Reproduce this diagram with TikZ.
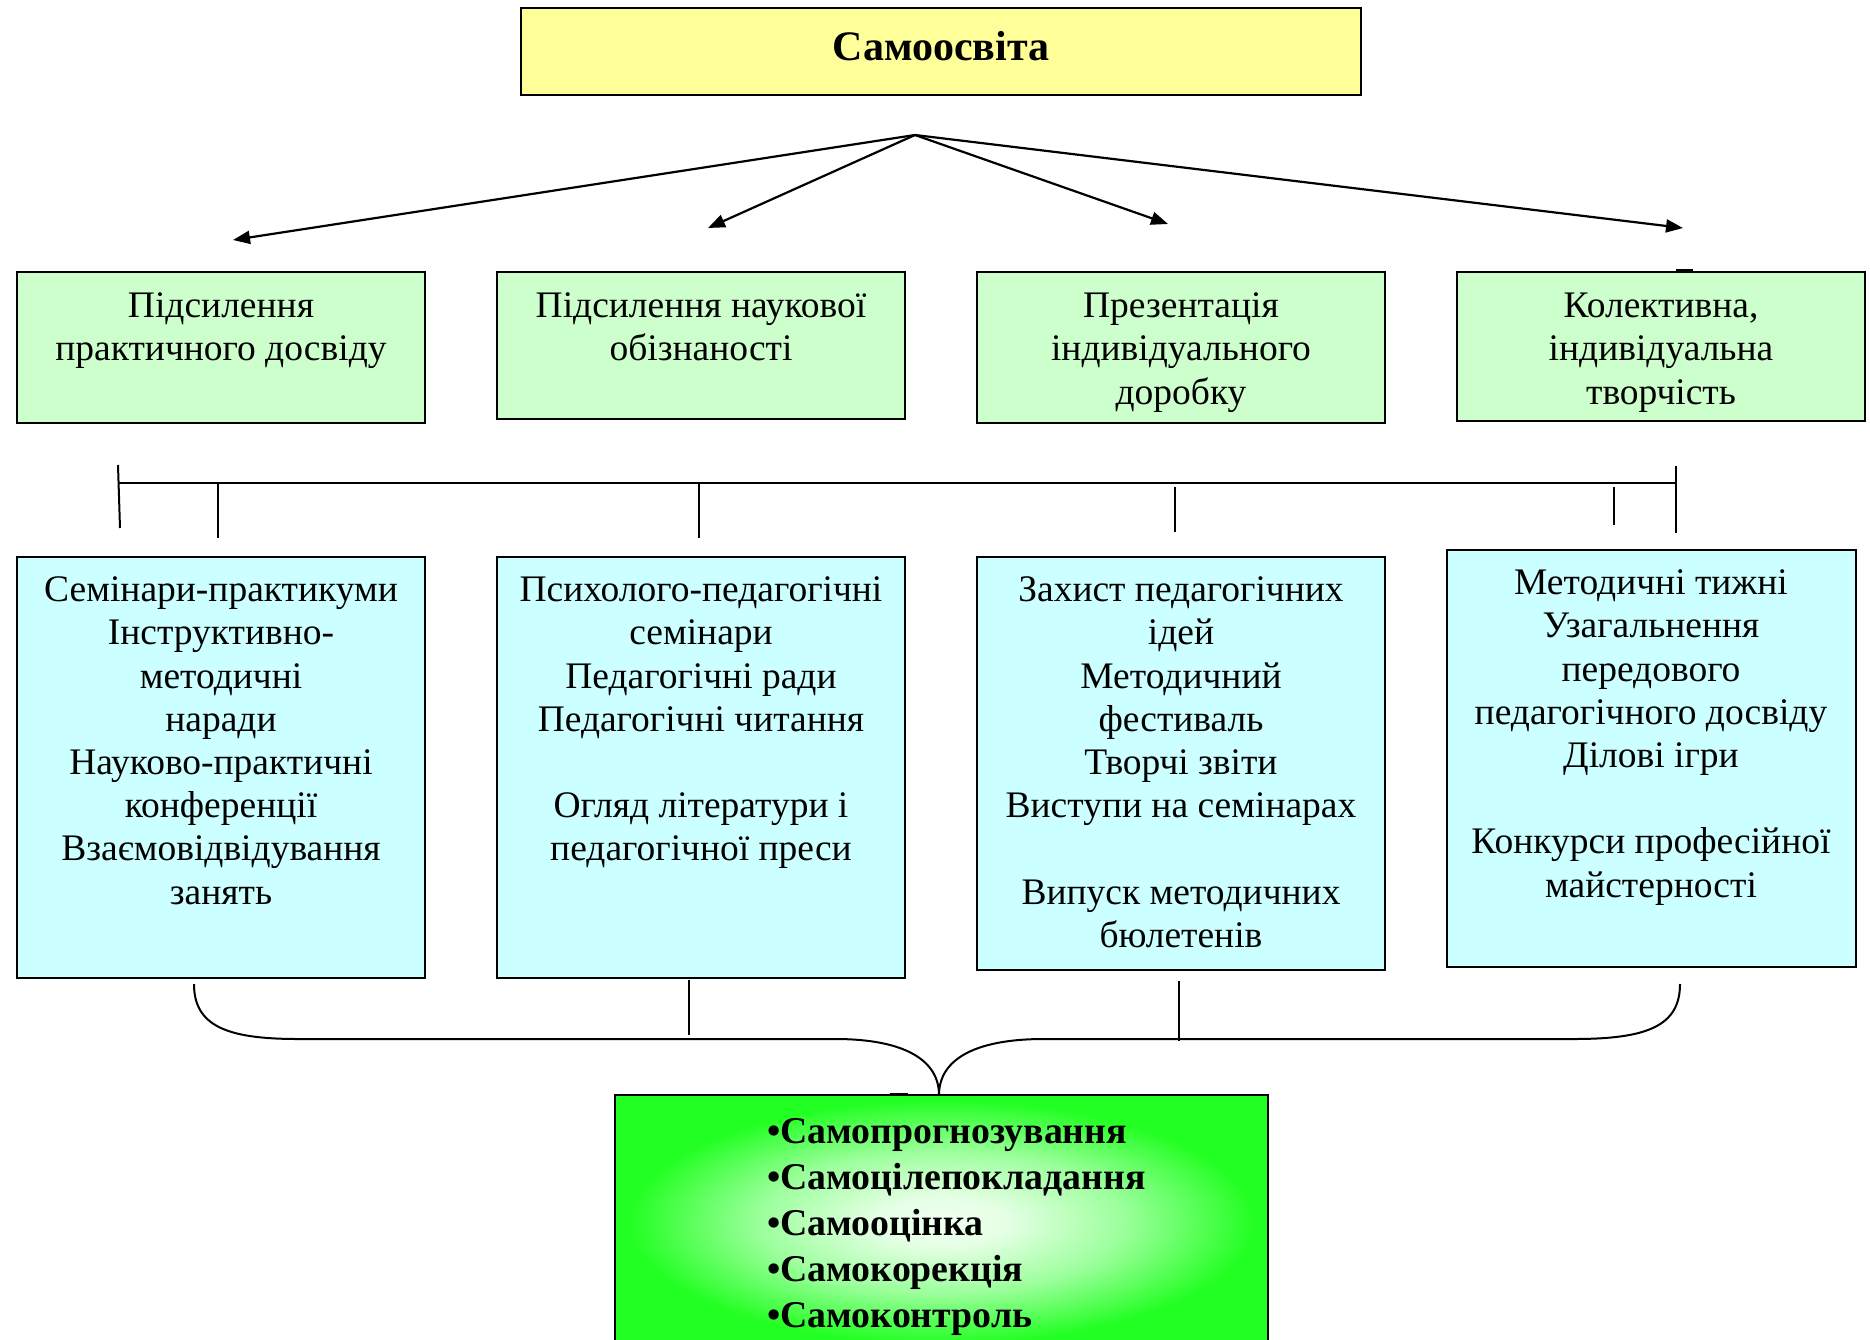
\documentclass[tikz,border=0pt]{standalone}
\usepackage{fontspec}
\setmainfont{Liberation Serif}
\usetikzlibrary{arrows.meta}
\definecolor{ybox}{HTML}{FFFF99}
\definecolor{gbox}{HTML}{CCFFCC}
\definecolor{cbox}{HTML}{CCFFFF}
\definecolor{bgreen}{HTML}{22FF22}
\pgfdeclareradialshading{glowgreen}{\pgfpoint{0bp}{0bp}}{color(0bp)=(white!94!bgreen); color(5bp)=(white!88!bgreen); color(14bp)=(white!55!bgreen); color(24bp)=(bgreen); color(50bp)=(bgreen)}
\begin{document}
\begin{tikzpicture}[x=1pt,y=-1pt,
  box/.style={draw=black, line width=1.6pt, inner sep=0pt, outer sep=0pt, anchor=north west},
  txt/.style={align=center, anchor=north, inner sep=0pt, font=\fontsize{37.5}{43.2}\selectfont},
  arr/.style={line width=2.2pt, -{Triangle[length=17pt,width=13pt]}},
  bar/.style={line width=2pt},
  thin/.style={line width=1.3pt},
  brace/.style={line width=2pt}]
\useasboundingbox (0,0) rectangle (1870,1340);

% top box
\node[box, fill=ybox, minimum width=840, minimum height=87] (top) at (521,8) {};
\node[font=\fontsize{42}{50}\selectfont\bfseries, inner sep=0pt] (title) at (941,46) {Самоосвіта};

% green boxes
\node[box, fill=gbox, minimum width=408, minimum height=151] (g1) at (17,272) {};
\node[box, fill=gbox, minimum width=408, minimum height=147] (g2) at (497,272) {};
\node[box, fill=gbox, minimum width=408, minimum height=151] (g3) at (977,272) {};
\node[box, fill=gbox, minimum width=408, minimum height=149] (g4) at (1457,272) {};
\node[txt] (tg1) at (221,287.3) {\strut Підсилення\\практичного досвіду};
\node[txt] (tg2) at (701,287.3) {\strut Підсилення наукової\\обізнаності};
\node[txt] (tg3) at (1181,287.3) {\strut Презентація\\індивідуального\\доробку};
\node[txt] (tg4) at (1661,287.3) {\strut Колективна,\\індивідуальна\\творчість};

% arrows
\coordinate (hub) at (915,135);
\coordinate (a1) at (233,240);
\coordinate (a2) at (708,228);
\coordinate (a3) at (1168,224);
\coordinate (a4) at (1683,228);
\draw[arr] (hub) -- (a1);
\draw[arr] (hub) -- (a2);
\draw[arr] (hub) -- (a3);
\draw[arr] (hub) -- (a4);
\draw[line width=3pt] (1676,271) -- (1693,271);

% bar with ticks
\coordinate (barL) at (119,483);
\coordinate (barR) at (1676,483);
\draw[bar] (barL) -- (barR);
\coordinate (t0a) at (118,465); \coordinate (t0b) at (120,528);
\coordinate (t1a) at (218,483); \coordinate (t1b) at (218,538);
\coordinate (t2a) at (699,483); \coordinate (t2b) at (699,538);
\coordinate (t3a) at (1175,487); \coordinate (t3b) at (1175,532);
\coordinate (t4a) at (1614,487); \coordinate (t4b) at (1614,525);
\coordinate (t5a) at (1676,466); \coordinate (t5b) at (1676,533);
\draw[bar] (t0a) -- (t0b);
\draw[bar] (t1a) -- (t1b);
\draw[bar] (t2a) -- (t2b);
\draw[bar] (t3a) -- (t3b);
\draw[bar] (t4a) -- (t4b);
\draw[bar] (t5a) -- (t5b);

% cyan boxes
\node[box, fill=cbox, minimum width=408, minimum height=421] (c1) at (17,557) {};
\node[box, fill=cbox, minimum width=408, minimum height=421] (c2) at (497,557) {};
\node[box, fill=cbox, minimum width=408, minimum height=413] (c3) at (977,557) {};
\node[box, fill=cbox, minimum width=409, minimum height=417] (c4) at (1447,550) {};
\node[txt] (tc1) at (221,571.3) {\strut Семінари-практикуми\\Інструктивно-\\методичні\\наради\\Науково-практичні\\конференції\\Взаємовідвідування\\занять};
\node[txt] (tc2) at (701,571.3) {\strut Психолого-педагогічні\\семінари\\Педагогічні ради\\Педагогічні читання\\[43.2pt]Огляд літератури і\\педагогічної преси};
\node[txt] (tc3) at (1181,571.3) {\strut Захист педагогічних\\ідей\\Методичний\\фестиваль\\Творчі звіти\\Виступи на семінарах\\[43.2pt]Випуск методичних\\бюлетенів};
\node[txt] (tc4) at (1651,564.3) {\strut Методичні тижні\\Узагальнення\\передового\\педагогічного досвіду\\Ділові ігри\\[43.2pt]Конкурси професійної\\майстерності};

% bottom box
\node[box, shading=glowgreen, minimum width=653, minimum height=254] (bot) at (615,1095) {};
\draw[line width=3pt] (890,1094) -- (908,1094);
\node[anchor=north west, align=left, inner sep=0pt, font=\fontsize{37.8}{46}\selectfont\bfseries] (list) at (767,1110.8)
  {\strut •Самопрогнозування\\•Самоцілепокладання\\•Самооцінка\\•Самокорекція\\•Самоконтроль};

% bottom connectors
\coordinate (bL) at (194,984);
\coordinate (bR) at (1680,984);
\coordinate (bM) at (939,1095);
\draw[brace] (bL) .. controls (194,1026) and (227,1039) .. (298,1039) -- (835,1039)
  .. controls (906,1039) and (939,1061) .. (bM);
\draw[brace] (bM) .. controls (939,1061) and (972,1039) .. (1044,1039) -- (1574,1039)
  .. controls (1647,1039) and (1680,1026) .. (bR);
\coordinate (v1a) at (689,980); \coordinate (v1b) at (689,1035);
\coordinate (v2a) at (1179,981); \coordinate (v2b) at (1179,1041);
\draw[thin] (v1a) -- (v1b);
\draw[thin] (v2a) -- (v2b);
\end{tikzpicture}
\end{document}
